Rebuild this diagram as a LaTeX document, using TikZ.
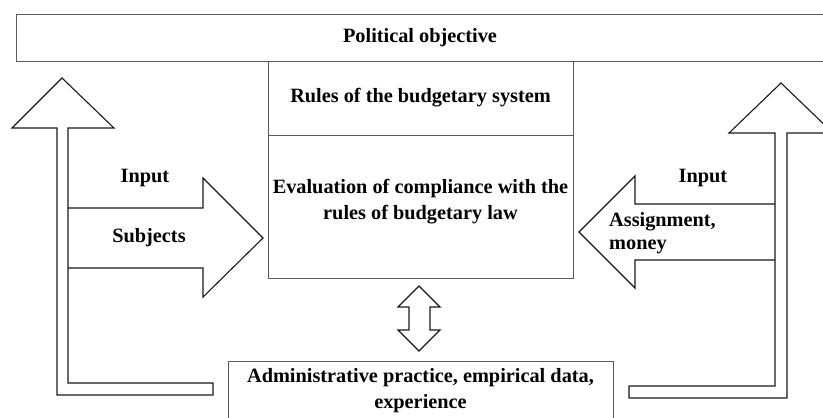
\documentclass[tikz,border=0pt]{standalone}
\usepackage{fontspec}
\setmainfont{Liberation Serif}
\usetikzlibrary{calc}
\begin{document}
\begin{tikzpicture}[x=1pt,y=-1pt,
  box/.style={draw=gray!70!black, line width=0.9pt, inner sep=0pt, align=center, font=\bfseries\fontsize{20.3}{25.5}\selectfont},
  fat/.style={draw=black!90, line width=1.1pt, line join=miter},
  lbl/.style={inner sep=0pt, font=\bfseries\fontsize{20.3}{23}\selectfont}]
\useasboundingbox (0,0) rectangle (823,418);
\clip (0,0) rectangle (823,418);
\node[box, minimum width=808, minimum height=47] (goal) at (420,37.5) {Political objective};
\node[box, minimum width=305, minimum height=74] (rules) at (420.5,98) {Rules of the budgetary system};
\node[box, minimum width=305, minimum height=143, text depth=14pt] (eval) at (420.5,206.5) {Evaluation of compliance with the\\rules of budgetary law};
\node[box, anchor=north, minimum width=385, inner ysep=7pt, text depth=30pt] (admin) at (420.5,361) {Administrative practice, empirical data,\\experience};
\draw[fat] (62,78)--(114,128)--(68,128)--(68,383)--(213,383)--(213,395)--(57,395)--(57,128)--(12,128)--cycle;
\draw[fat] (68,208)--(203,208)--(203,178)--(263,238)--(203,297)--(203,268)--(68,268);
\draw[fat] (781,83)--(833,133)--(787,133)--(787,398)--(629,398)--(629,386)--(775,386)--(775,133)--(729,133)--cycle;
\draw[fat] (775,204)--(635,204)--(635,176)--(579,232)--(635,288)--(635,260)--(775,260);
\draw[fat] (419,286)--(440,307)--(430,307)--(430,330)--(440,330)--(419,351)--(398,330)--(409,330)--(409,307)--(398,307)--cycle;
\node[lbl, anchor=base] (inL) at (145,182.5) {Input};
\node[lbl, anchor=base] (subj) at (149,242.5) {Subjects};
\node[lbl, anchor=base] (inR) at (703,182.5) {Input};
\node[lbl, anchor=west, align=left] (assign) at (609,233.5) {Assignment,\\money};
\end{tikzpicture}
\end{document}
